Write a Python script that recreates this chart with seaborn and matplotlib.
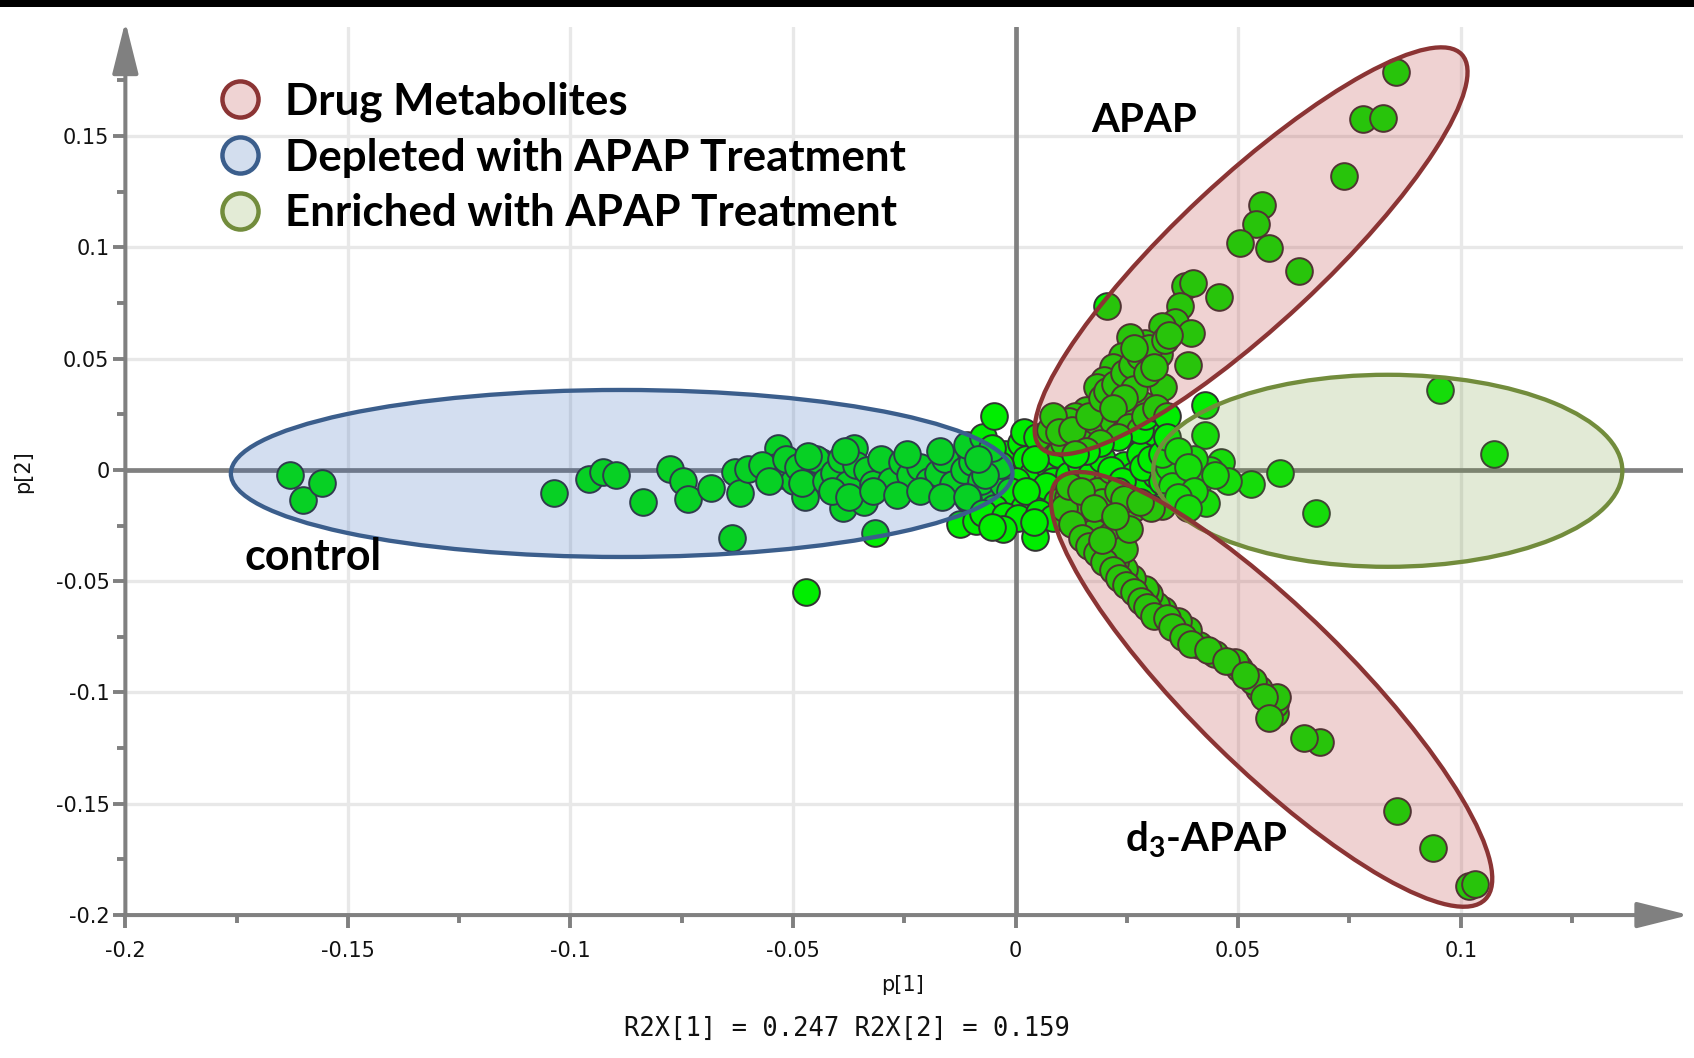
import matplotlib
matplotlib.use("Agg")
import numpy as np
import pandas as pd
import matplotlib.pyplot as plt
import seaborn as sns
from matplotlib.patches import Ellipse, Rectangle
from matplotlib.transforms import Affine2D
from matplotlib.lines import Line2D

# ---------------- loadings p[1], p[2] ----------------
control_x = [-0.1631, -0.1602, -0.1558, -0.1036, -0.0959, -0.0927, -0.0898, -0.0837, -0.0777, -0.0748,
             -0.0735, -0.0684, -0.0638, -0.0631, -0.0619, -0.0602, -0.0534, -0.0539, -0.0522, -0.0498,
             -0.0473, -0.0471, -0.0456, -0.0437, -0.0417, -0.0388, -0.0364, -0.0352, -0.0340, -0.0316,
             -0.0311, -0.0291, -0.0267, -0.0248, -0.0231, -0.0218, -0.0199, -0.0182, -0.0170, -0.0150,
             -0.0133, -0.0121, -0.0102, -0.0085, -0.0068,
             -0.0570, -0.0553, -0.0515, -0.0490, -0.0481, -0.0449, -0.0425, -0.0408, -0.0393, -0.0376,
             -0.0359, -0.0335, -0.0320, -0.0303, -0.0279, -0.0255, -0.0238, -0.0214, -0.0194, -0.0175,
             -0.0158, -0.0141, -0.0116, -0.0097, -0.0078, -0.0061, -0.0044, -0.0029, -0.0019,
             -0.0413, -0.0374, -0.0320, -0.0267, -0.0214, -0.0165, -0.0107,
             -0.0466, -0.0383, -0.0243, -0.0170, -0.0109, -0.0073]
control_y = [-0.0024, -0.0136, -0.0058, -0.0102, -0.0039, -0.0010, -0.0024, -0.0146, 0.0005, -0.0049,
             -0.0131, -0.0083, -0.0306, -0.0010, -0.0102, 0.0005, 0.0097, 0.0015, -0.0024, -0.0049,
             -0.0121, -0.0549, -0.0024, 0.0034, 0.0015, -0.0170, 0.0097, -0.0024, -0.0146, -0.0282,
             0.0015, -0.0034, -0.0005, -0.0063, 0.0024, -0.0034, -0.0005, -0.0073, 0.0034, -0.0024,
             0.0015, -0.0063, 0.0073, -0.0015, -0.0097,
             0.0024, -0.0049, 0.0049, 0.0015, -0.0058, 0.0049, -0.0049, -0.0015, 0.0049, -0.0063,
             0.0024, 0.0000, -0.0063, 0.0049, -0.0049, 0.0034, -0.0024, 0.0015, -0.0049, -0.0015,
             0.0049, -0.0063, 0.0000, 0.0034, -0.0049, 0.0015, -0.0024, -0.0063, 0.0049,
             -0.0097, -0.0121, -0.0097, -0.0112, -0.0097, -0.0121, -0.0131,
             0.0063, 0.0083, 0.0073, 0.0083, 0.0112, 0.0146]

core_x = [-0.0126, -0.0090, -0.0049, -0.0024, 0.0012, 0.0024, 0.0036, 0.0000, -0.0036, -0.0012,
          0.0019, 0.0044, 0.0053, 0.0073, 0.0061, 0.0085, 0.0097, 0.0109, 0.0121, 0.0146,
          0.0170, 0.0194, 0.0206, 0.0243, 0.0267, 0.0279, 0.0291, 0.0316, -0.0049, -0.0068,
          -0.0053, -0.0085, -0.0109, -0.0073, -0.0024, 0.0005, 0.0019, 0.0049, 0.0078, 0.0044,
          0.0068, 0.0092, 0.0150, 0.0182, 0.0214, 0.0238, 0.0286, 0.0303, 0.0328, 0.0024,
          0.0053, 0.0085, -0.0029, -0.0053, 0.0041]
core_y = [-0.0243, -0.0228, 0.0243, 0.0073, 0.0121, 0.0049, -0.0024, -0.0049, 0.0024, -0.0097,
          -0.0170, -0.0301, -0.0121, 0.0024, 0.0097, -0.0049, 0.0073, -0.0097, -0.0024, 0.0024,
          -0.0024, 0.0049, -0.0049, 0.0024, -0.0024, 0.0073, -0.0073, -0.0024, -0.0170, -0.0024,
          0.0097, 0.0049, -0.0121, -0.0194, -0.0209, -0.0218, 0.0170, 0.0146, 0.0180, 0.0049,
          -0.0073, -0.0146, -0.0121, -0.0097, 0.0000, -0.0049, 0.0015, 0.0049, -0.0049, -0.0097,
          -0.0194, -0.0218, -0.0267, -0.0257, -0.0233]

apap_x = [0.0854, 0.0781, 0.0825, 0.0738, 0.0553, 0.0541, 0.0570, 0.0505, 0.0636, 0.0206,
          0.0381, 0.0398, 0.0456, 0.0369, 0.0359, 0.0393, 0.0328, 0.0291, 0.0257, 0.0323,
          0.0388, 0.0238, 0.0218, 0.0199, 0.0182, 0.0330, 0.0286, 0.0255, 0.0189, 0.0158,
          0.0133, 0.0121, 0.0085, 0.0170, 0.0218, 0.0303, 0.0146, 0.0109, 0.0243, 0.0311,
          0.0097, 0.0126, 0.0165, 0.0194, 0.0206, 0.0223, 0.0243, 0.0262, 0.0279, 0.0299,
          0.0267, 0.0243, 0.0218, 0.0255, 0.0279, 0.0291, 0.0316, 0.0340, 0.0231, 0.0189,
          0.0158, 0.0133, 0.0296, 0.0311, 0.0335, 0.0267, 0.0345]
apap_y = [0.1786, 0.1578, 0.1582, 0.1320, 0.1189, 0.1107, 0.0995, 0.1019, 0.0893, 0.0738,
          0.0825, 0.0840, 0.0777, 0.0738, 0.0665, 0.0616, 0.0646, 0.0568, 0.0597, 0.0519,
          0.0471, 0.0510, 0.0461, 0.0403, 0.0374, 0.0374, 0.0291, 0.0243, 0.0296, 0.0267,
          0.0243, 0.0218, 0.0243, 0.0194, 0.0218, 0.0209, 0.0121, 0.0121, 0.0170, 0.0170,
          0.0170, 0.0180, 0.0243, 0.0325, 0.0354, 0.0388, 0.0437, 0.0471, 0.0510, 0.0549,
          0.0364, 0.0325, 0.0277, 0.0194, 0.0180, 0.0243, 0.0277, 0.0243, 0.0146, 0.0121,
          0.0083, 0.0073, 0.0437, 0.0461, 0.0582, 0.0549, 0.0607]

enriched_x = [0.0954, 0.1075, 0.0675, 0.0595, 0.0529, 0.0461, 0.0478, 0.0425, 0.0425, 0.0437,
              0.0413, 0.0427, 0.0400, 0.0376, 0.0345, 0.0352, 0.0328, 0.0328, 0.0340, 0.0364,
              0.0388, 0.0400, 0.0449, 0.0364, 0.0388]
enriched_y = [0.0359, 0.0073, -0.0194, -0.0015, -0.0063, 0.0034, -0.0049, 0.0155, 0.0291, 0.0000,
              -0.0049, -0.0150, 0.0049, -0.0024, 0.0015, -0.0073, -0.0160, 0.0073, 0.0146, 0.0083,
              0.0015, -0.0097, -0.0024, -0.0121, -0.0170]

d3_x = [0.1019, 0.1031, 0.0937, 0.0857, 0.0684, 0.0648, 0.0582, 0.0582, 0.0587, 0.0546,
        0.0534, 0.0502, 0.0493, 0.0449, 0.0413, 0.0388, 0.0364, 0.0330, 0.0316, 0.0299,
        0.0291, 0.0262, 0.0243, 0.0223, 0.0206, 0.0194, 0.0158, 0.0146, 0.0133, 0.0170,
        0.0218, 0.0194, 0.0267, 0.0303, 0.0231, 0.0117, 0.0141, 0.0175, 0.0214, 0.0243,
        0.0109, 0.0126, 0.0150, 0.0165, 0.0182, 0.0199, 0.0218, 0.0233, 0.0248, 0.0267,
        0.0282, 0.0296, 0.0311, 0.0340, 0.0352, 0.0376, 0.0393, 0.0432, 0.0473, 0.0515,
        0.0558, 0.0570, 0.0121, 0.0146, 0.0175, 0.0243, 0.0279, 0.0255, 0.0194, 0.0223]
d3_y = [-0.1869, -0.1859, -0.1699, -0.1534, -0.1223, -0.1204, -0.1092, -0.1053, -0.1019, -0.0985,
        -0.0947, -0.0888, -0.0864, -0.0825, -0.0786, -0.0718, -0.0680, -0.0631, -0.0607, -0.0558,
        -0.0534, -0.0485, -0.0447, -0.0413, -0.0374, -0.0340, -0.0282, -0.0257, -0.0218, -0.0218,
        -0.0170, -0.0146, -0.0170, -0.0170, -0.0097, -0.0121, -0.0170, -0.0277, -0.0291, -0.0354,
        -0.0170, -0.0243, -0.0306, -0.0340, -0.0374, -0.0413, -0.0451, -0.0485, -0.0519, -0.0549,
        -0.0587, -0.0616, -0.0655, -0.0665, -0.0704, -0.0752, -0.0781, -0.0811, -0.0859, -0.0922,
        -0.1019, -0.1116, -0.0073, -0.0097, -0.0170, -0.0131, -0.0146, -0.0267, -0.0316, -0.0209]

x_ticks = [-0.2, -0.15, -0.1, -0.05, 0, 0.05, 0.1]
x_tick_labels = ["-0.2", "-0.15", "-0.1", "-0.05", "0", "0.05", "0.1"]
y_ticks = [-0.2, -0.15, -0.1, -0.05, 0, 0.05, 0.1, 0.15]
y_tick_labels = ["-0.2", "-0.15", "-0.1", "-0.05", "0", "0.05", "0.1", "0.15"]

legend_labels = ["Drug Metabolites", "Depleted with APAP Treatment", "Enriched with APAP Treatment"]
r2x = [0.247, 0.159]

# ---------------- styling ----------------
sns.set_theme(style="white")
plt.rcParams["font.family"] = ["DejaVu Sans"]
plt.rcParams["mathtext.fontset"] = "custom"
plt.rcParams["mathtext.rm"] = "Lato:bold"
plt.rcParams["mathtext.it"] = "Lato:bold"
plt.rcParams["mathtext.bf"] = "Lato:bold"

AXIS_GREY = "#808080"
GRID_GREY = "#e8e8e8"
POINT_GREEN = "#00ee00"
BOLD_FONT = dict(family="Lato", weight="bold", color="black")

fig = plt.figure(figsize=(16.94, 10.58), dpi=100)
ax = fig.add_axes([0.074, 0.1351, 0.9197, 0.8394])
XLIM, YLIM = (-0.2, 0.15), (-0.2, 0.199)
ax.set_xlim(*XLIM)
ax.set_ylim(*YLIM)

df = pd.concat([
    pd.DataFrame({"p1": control_x, "p2": control_y}),
    pd.DataFrame({"p1": core_x, "p2": core_y}),
    pd.DataFrame({"p1": apap_x, "p2": apap_y}),
    pd.DataFrame({"p1": enriched_x, "p2": enriched_y}),
    pd.DataFrame({"p1": d3_x, "p2": d3_y}),
], ignore_index=True)

sns.scatterplot(data=df, x="p1", y="p2", s=369, color=POINT_GREEN,
                edgecolor="#333333", linewidth=1.4, ax=ax, zorder=3, legend=False)

# grid, zero lines, axes with arrows
ax.set_xticks(x_ticks)
ax.set_xticklabels(x_tick_labels)
ax.set_yticks(y_ticks)
ax.set_yticklabels(y_tick_labels)
ax.set_xticks(np.arange(-0.175, 0.13, 0.05), minor=True)
ax.set_yticks(np.arange(-0.175, 0.19, 0.05), minor=True)
ax.grid(True, which="major", color=GRID_GREY, lw=2.4, zorder=0)
ax.set_axisbelow(True)
ax.axhline(0, color=AXIS_GREY, lw=3.4, zorder=1)
ax.axvline(0, color=AXIS_GREY, lw=3.4, zorder=1)
for s in ax.spines.values():
    s.set_visible(False)

arrow_kw = dict(arrowstyle="-|>,head_length=3.2,head_width=0.8", mutation_scale=10,
                color=AXIS_GREY, lw=2.9, shrinkA=0, shrinkB=0, clip_on=False)
ax.annotate("", xy=(XLIM[0], YLIM[1] + 0.0025), xytext=(XLIM[0], YLIM[0]),
            arrowprops=arrow_kw, annotation_clip=False, zorder=2)
ax.annotate("", xy=(XLIM[1] + 0.0013, YLIM[0]), xytext=(XLIM[0] - 0.0005, YLIM[0]),
            arrowprops=arrow_kw, annotation_clip=False, zorder=2)

ax.tick_params(axis="x", which="major", direction="out", length=9.5, width=2.8,
               color=AXIS_GREY, pad=9.5, labelsize=15, labelcolor="#111111", bottom=True)
ax.tick_params(axis="x", which="minor", direction="out", length=6, width=2.8,
               color=AXIS_GREY, bottom=True)
ax.tick_params(axis="y", which="major", direction="out", length=8.5, width=2.8,
               color=AXIS_GREY, pad=3, labelsize=15, labelcolor="#111111", left=True)
ax.tick_params(axis="y", which="minor", direction="out", length=6, width=2.8,
               color=AXIS_GREY, left=True)

ax.set_xlabel("p[1]", fontsize=15, color="#111111", va="top")
ax.set_ylabel("p[2]", fontsize=15, color="#111111", va="bottom")
ax.xaxis.set_label_coords(0.499, -0.0674)
ax.yaxis.set_label_coords(-0.059, 0.499)

# confidence-style ellipses (defined in screen-isotropic units of p[1])
bbox = ax.get_position()
px_per_x = bbox.width * fig.get_figwidth() / (XLIM[1] - XLIM[0])
px_per_y = bbox.height * fig.get_figheight() / (YLIM[1] - YLIM[0])
ratio = px_per_x / px_per_y


def region(cx, cy, a, b, angle, face, edge):
    tr = Affine2D().scale(1, ratio).translate(cx, cy) + ax.transData
    e = Ellipse((0, 0), 2 * a, 2 * b, angle=angle, transform=tr,
                facecolor=face, edgecolor=edge, lw=3.1, zorder=4)
    ax.add_patch(e)


region(-0.0885, -0.0016, 0.0878, 0.01876, 0, (0.15, 0.36, 0.72, 0.20), "#3b5e8c")
region(0.0836, -0.0004, 0.0527, 0.02157, 0, (0.43, 0.59, 0.20, 0.20), "#728c3c")
region(0.0529, 0.0984, 0.0647, 0.0164, 43, (0.72, 0.20, 0.20, 0.22), "#8b3434")
region(0.0575, -0.0986, 0.0673, 0.0177, -44.5, (0.72, 0.20, 0.20, 0.22), "#8b3434")

# group annotations
ax.text(0.0170, 0.1519, "APAP", fontsize=29, ha="left", va="baseline", zorder=6, **BOLD_FONT)
ax.text(-0.1732, -0.0449, "control", fontsize=31, ha="left", va="baseline", zorder=6, **BOLD_FONT)
ax.text(0.0245, -0.1715, "d$_3$-APAP", fontsize=29, ha="left", va="baseline", zorder=6, **BOLD_FONT)

# legend
handles = [
    Line2D([], [], ls="none", marker="o", markersize=26, markeredgewidth=3.2,
           markerfacecolor="#efd3d3", markeredgecolor="#8b3434"),
    Line2D([], [], ls="none", marker="o", markersize=26, markeredgewidth=3.2,
           markerfacecolor="#d3deee", markeredgecolor="#3b5e8c"),
    Line2D([], [], ls="none", marker="o", markersize=26, markeredgewidth=3.2,
           markerfacecolor="#e3ebd6", markeredgecolor="#728c3c"),
]
leg = ax.legend(handles, legend_labels, loc="upper left",
                bbox_to_anchor=(0.1288, 0.9228), bbox_transform=fig.transFigure,
                frameon=False, prop=dict(family="Lato", weight="bold", size=31.6),
                handlelength=1.0, handletextpad=0.52, labelspacing=0.35,
                borderpad=0, borderaxespad=0)
for t in leg.get_texts():
    t.set_color("black")
leg.set_zorder(7)

fig.text(0.5, 0.027, f"R2X[1] = {r2x[0]:.3f} R2X[2] = {r2x[1]:.3f}",
         family="DejaVu Sans Mono", fontsize=18.4, ha="center", va="center", color="#111111")

fig.add_artist(Rectangle((0, 1 - 7 / 1058), 1, 7 / 1058, transform=fig.transFigure,
                         facecolor="black", edgecolor="none"))

fig.savefig("out.png", dpi=100)
